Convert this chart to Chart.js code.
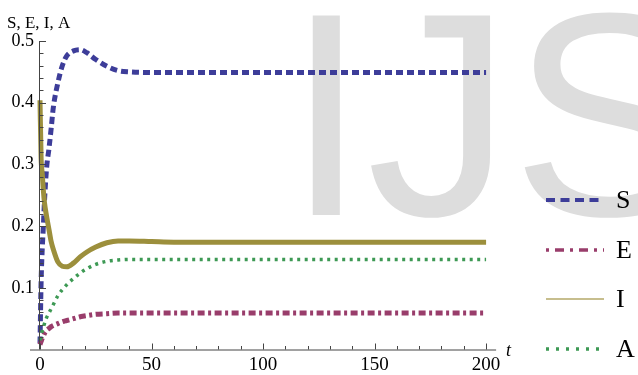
<!DOCTYPE html>
<html>
<head>
    <meta charset="UTF-8">
    <title>S, E, I, A</title>
    <script src="https://cdn.jsdelivr.net/npm/chart.js"></script>
    <style>
        body { margin: 0; background: #fff; }
        canvas { display: block; }
    </style>
</head>
<body>
    <canvas id="chart" width="638" height="375"></canvas>
    <script>
        // time points
        var tVals = [0, 0.5, 1, 1.5, 2, 3, 4, 5, 6, 8, 10, 12, 15, 18, 21, 25, 30, 35, 40, 50, 60, 80, 100, 120, 150, 180, 200];
        var sVals = [0.010, 0.110, 0.163, 0.199, 0.240, 0.296, 0.325, 0.358, 0.393, 0.432, 0.460, 0.476, 0.484, 0.486, 0.481, 0.470, 0.459, 0.452, 0.450, 0.449, 0.449, 0.449, 0.449, 0.449, 0.449, 0.449, 0.449];
        var eVals = [0.008, 0.013, 0.018, 0.022, 0.026, 0.031, 0.034, 0.037, 0.039, 0.042, 0.045, 0.047, 0.050, 0.053, 0.055, 0.057, 0.058, 0.059, 0.059, 0.059, 0.059, 0.059, 0.059, 0.059, 0.059, 0.059, 0.059];
        var iVals = [0.404, 0.310, 0.285, 0.258, 0.238, 0.215, 0.195, 0.175, 0.162, 0.142, 0.135, 0.134, 0.140, 0.150, 0.158, 0.166, 0.173, 0.176, 0.176, 0.175, 0.174, 0.174, 0.174, 0.174, 0.174, 0.174, 0.174];
        var aVals = [0.015, 0.022, 0.030, 0.036, 0.042, 0.052, 0.059, 0.066, 0.073, 0.087, 0.097, 0.105, 0.115, 0.124, 0.131, 0.138, 0.143, 0.145, 0.146, 0.146, 0.146, 0.146, 0.146, 0.146, 0.146, 0.146, 0.146];

        var seriesNames = ['S', 'E', 'I', 'A'];
        var xTickVals = [0, 50, 100, 150, 200];
        var yTickVals = [0.1, 0.2, 0.3, 0.4, 0.5];
        var yTitle = 'S, E, I, A';
        var xTitle = 't';

        var colS = '#3d3d99', colE = '#993d6b', colI = '#9c8f3c', colA = '#3d9954';

        function pts(vals) {
            return tVals.map(function(t, i) { return { x: t, y: vals[i] }; });
        }

        // legend entries (line style used in the legend column)
        var legendStyles = [
            { color: colS, width: 4, dash: [9, 5.5] },
            { color: colE, width: 3.5, dash: [3, 6, 9, 6] },
            { color: '#b4a868', width: 1.5, dash: [] },
            { color: colA, width: 3.5, dash: [3, 7] }
        ];

        var serif = '"Liberation Serif", "DejaVu Serif", serif';

        var decorPlugin = {
            id: 'decor',
            beforeDraw: function(chart) {
                var ctx = chart.ctx;
                ctx.save();
                ctx.fillStyle = '#dddddd';
                ctx.font = '290px "Liberation Sans", Arial, sans-serif';
                ctx.textBaseline = 'alphabetic';
                ctx.fillText('IJS', 286, 215);
                ctx.restore();
            },
            afterDraw: function(chart) {
                var ctx = chart.ctx;
                var xs = chart.scales.x, ys = chart.scales.y;
                var x0 = xs.getPixelForValue(0), y0 = ys.getPixelForValue(0);
                ctx.save();
                ctx.strokeStyle = '#444';
                ctx.lineWidth = 1;
                ctx.beginPath();
                // axes
                ctx.moveTo(x0 - 10, y0 + 0.5); ctx.lineTo(xs.getPixelForValue(204.5), y0 + 0.5);
                ctx.moveTo(x0 - 0.5, y0); ctx.lineTo(x0 - 0.5, ys.getPixelForValue(0.5));
                // x ticks
                for (var t = 0; t <= 200; t += 10) {
                    var px = Math.round(xs.getPixelForValue(t)) + 0.5;
                    var len = (t % 50 === 0) ? 6 : 3.5;
                    ctx.moveTo(px, y0); ctx.lineTo(px, y0 - len);
                }
                // y ticks
                for (var k = 1; k <= 25; k++) {
                    var py = Math.round(ys.getPixelForValue(k * 0.02)) + 0.5;
                    var l = (k % 5 === 0) ? 6 : 3.5;
                    ctx.moveTo(x0, py); ctx.lineTo(x0 + l, py);
                }
                ctx.stroke();

                // axis labels
                ctx.fillStyle = '#000';
                ctx.font = '17px ' + serif;
                ctx.textBaseline = 'alphabetic';
                ctx.fillText(yTitle, 7, 28);
                ctx.font = 'italic 18px ' + serif;
                ctx.fillText(xTitle, 506, 356);

                // legend
                var ly = [200, 250, 299, 349];
                for (var j = 0; j < seriesNames.length; j++) {
                    var st = legendStyles[j];
                    ctx.beginPath();
                    ctx.strokeStyle = st.color;
                    ctx.lineWidth = st.width;
                    ctx.setLineDash(st.dash);
                    ctx.moveTo(546, ly[j]); ctx.lineTo(604, ly[j]);
                    ctx.stroke();
                    ctx.setLineDash([]);
                    ctx.fillStyle = '#000';
                    ctx.font = '26px ' + serif;
                    ctx.textBaseline = 'middle';
                    ctx.fillText(seriesNames[j], 616, ly[j] + 1);
                }
                ctx.restore();
            }
        };

        var ctx = document.getElementById('chart').getContext('2d');
        var chart = new Chart(ctx, {
            type: 'line',
            data: {
                datasets: [
                    { label: seriesNames[0], data: pts(sVals), borderColor: colS, borderWidth: 5, borderDash: [7, 4], order: 4 },
                    { label: seriesNames[1], data: pts(eVals), borderColor: colE, borderWidth: 5, borderDash: [7, 3.5, 3, 3.5], order: 3 },
                    { label: seriesNames[2], data: pts(iVals), borderColor: colI, borderWidth: 5, borderDash: [], order: 1 },
                    { label: seriesNames[3], data: pts(aVals), borderColor: colA, borderWidth: 3.5, borderDash: [3, 4.5], order: 2 }
                ]
            },
            options: {
                responsive: false,
                animation: false,
                datasets: {
                    line: { pointRadius: 0, fill: false, cubicInterpolationMode: 'monotone', clip: false, borderCapStyle: 'butt' }
                },
                layout: { padding: { top: 41, right: 143, left: 0, bottom: 0 } },
                plugins: {
                    legend: { display: false },
                    tooltip: { enabled: false }
                },
                scales: {
                    x: {
                        type: 'linear',
                        min: 0,
                        max: 204,
                        grid: { display: false, drawTicks: false },
                        border: { display: false },
                        afterBuildTicks: function(scale) {
                            scale.ticks = xTickVals.map(function(v) { return { value: v }; });
                        },
                        afterFit: function(scale) { scale.height = 25.5; },
                        ticks: {
                            padding: 4,
                            color: '#000',
                            maxRotation: 0,
                            font: { family: serif, size: 19 }
                        }
                    },
                    y: {
                        min: 0,
                        max: 0.5,
                        grid: { display: false, drawTicks: false },
                        border: { display: false },
                        afterBuildTicks: function(scale) {
                            scale.ticks = yTickVals.map(function(v) { return { value: v }; });
                        },
                        afterFit: function(scale) { scale.width = 40; },
                        ticks: {
                            padding: 6,
                            color: '#000',
                            font: { family: serif, size: 18 },
                            callback: function(v) { return v.toFixed(1); }
                        }
                    }
                }
            },
            plugins: [decorPlugin]
        });
    </script>
</body>
</html>
